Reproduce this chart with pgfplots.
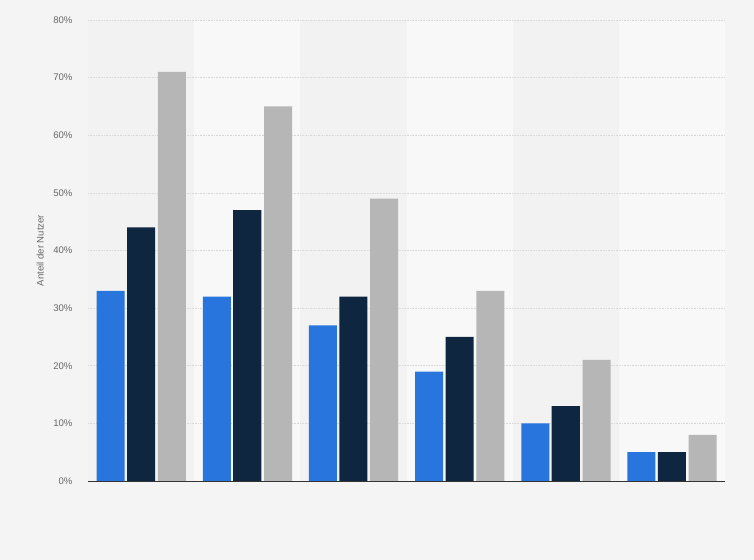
\documentclass[border=0pt]{standalone}
\usepackage{fontspec}
\setmainfont{Liberation Sans}
\usepackage{pgfplots}
\pgfplotsset{compat=1.18}

\definecolor{pagebg}{HTML}{F4F4F4}
\definecolor{banddark}{HTML}{F2F2F2}
\definecolor{bandlight}{HTML}{F8F8F8}
\definecolor{cblue}{HTML}{2876DD}
\definecolor{cnavy}{HTML}{0F2640}
\definecolor{cgray}{HTML}{B6B6B6}
\definecolor{labgray}{HTML}{666666}

\begin{document}
\begin{tikzpicture}
\fill[pagebg] (0,0) rectangle (754bp,560bp);
\begin{axis}[
    at={(88bp,79bp)}, anchor=south west,
    scale only axis,
    width=637bp, height=461bp,
    ybar,
    xmin=-0.5, xmax=5.5,
    ymin=0, ymax=80,
    ytick={0,10,...,80},
    xtick=\empty,
    yticklabel={\pgfmathprintnumber{\tick}\%},
    /pgf/number format/assume math mode=true,
    tick label style={font=\fontsize{9.6}{11}\selectfont, text=labgray},
    yticklabel style={xshift=-12bp},
    major tick length=0pt,
    axis line style={draw=none},
    ylabel={Anteil der Nutzer},
    ylabel style={at={(axis description cs:-0.075,0.5)}, anchor=center,
        font=\fontsize{9.6}{11}\selectfont, text=labgray},
    bar width=0.264,
    clip=false,
    ]
\fill[banddark]  (axis cs:-0.5,0) rectangle (axis cs:0.5,80);
\fill[bandlight] (axis cs:0.5,0) rectangle (axis cs:1.5,80);
\fill[banddark]  (axis cs:1.5,0) rectangle (axis cs:2.5,80);
\fill[bandlight] (axis cs:2.5,0) rectangle (axis cs:3.5,80);
\fill[banddark]  (axis cs:3.5,0) rectangle (axis cs:4.5,80);
\fill[bandlight] (axis cs:4.5,0) rectangle (axis cs:5.5,80);
\pgfplotsinvokeforeach{10,20,30,40,50,60,70,80}{
  \draw[densely dotted, color=black!15, line width=0.6pt] (axis cs:-0.5,#1) -- (axis cs:5.5,#1);
}
\addplot[fill=cblue, draw=none, bar shift=-0.287] coordinates {(0,33) (1,32) (2,27) (3,19) (4,10) (5,5)};
\addplot[fill=cnavy, draw=none, bar shift=0] coordinates {(0,44) (1,47) (2,32) (3,25) (4,13) (5,5)};
\addplot[fill=cgray, draw=none, bar shift=0.29] coordinates {(0,71) (1,65) (2,49) (3,33) (4,21) (5,8)};
\draw[color=black!80, line width=0.8pt] (axis cs:-0.5,0) -- (axis cs:5.5,0);
\end{axis}
\end{tikzpicture}
\end{document}
